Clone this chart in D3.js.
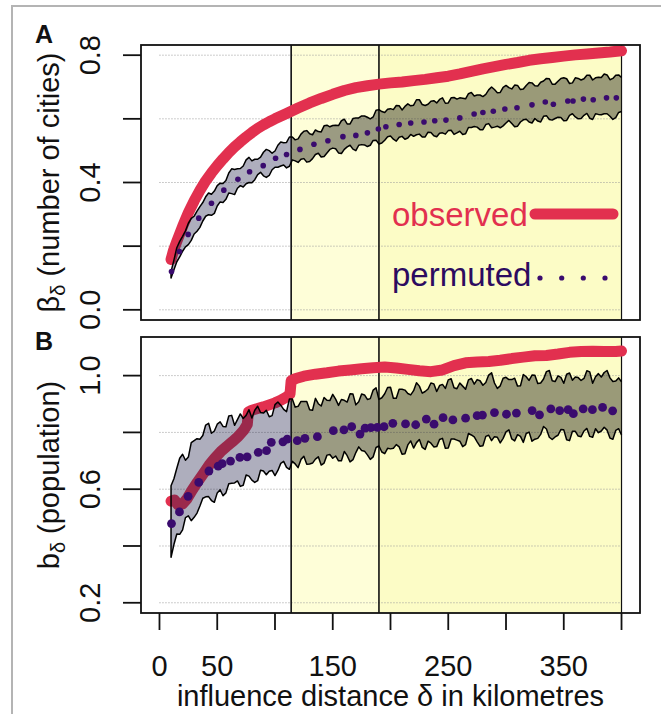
<!DOCTYPE html>
<html><head><meta charset="utf-8">
<script src="https://cdn.jsdelivr.net/npm/d3@7"></script>
<style>
body{margin:0;background:#fff;}
svg{display:block;}
text{font-family:"Liberation Sans",Arial,Helvetica,sans-serif;}
</style>
</head><body>
<svg id="c" width="661" height="714"></svg>
<script>
// ---------- data ----------
const distances = [10,15,20,25,30,35,40,45,50,55,60,65,70,75,80,85,90,95,100,105,110,115,120,125,130,135,140,145,150,155,160,165,170,175,180,185,190,195,200,205,210,215,220,225,230,235,240,245,250,255,260,265,270,275,280,285,290,295,300,305,310,315,320,325,330,335,340,345,350,355,360,365,370,375,380,385,390,395,400];
const midDistances = [12.5,17.5,22.5,27.5,32.5,37.5,42.5,47.5,52.5,57.5,62.5,67.5,72.5,77.5,82.5,87.5,92.5,97.5,102.5,107.5,112.5,117.5,122.5,127.5,132.5,137.5,142.5,147.5,152.5,157.5,162.5,167.5,172.5,177.5,182.5,187.5,192.5,197.5,202.5,207.5,212.5,217.5,222.5,227.5,232.5,237.5,242.5,247.5,252.5,257.5,262.5,267.5,272.5,277.5,282.5,287.5,292.5,297.5,302.5,307.5,312.5,317.5,322.5,327.5,332.5,337.5,342.5,347.5,352.5,357.5,362.5,367.5,372.5,377.5,382.5,387.5,392.5,397.5];

const permA_upper = [0.120,0.195,0.231,0.272,0.294,0.324,0.355,0.363,0.390,0.397,
 0.430,0.441,0.444,0.471,0.468,0.473,0.495,0.500,0.499,0.527,
 0.526,0.543,0.537,0.561,0.553,0.565,0.559,0.580,0.579,0.579,
 0.599,0.584,0.603,0.609,0.605,0.606,0.629,0.620,0.632,0.642,
 0.628,0.647,0.643,0.660,0.642,0.655,0.650,0.666,0.650,0.667,
 0.666,0.663,0.683,0.675,0.670,0.691,0.692,0.683,0.705,0.694,
 0.705,0.694,0.714,0.704,0.715,0.727,0.709,0.718,0.729,0.711,
 0.729,0.722,0.737,0.722,0.731,0.741,0.723,0.737,0.730];
const permA_upper_mid = [0.156,0.215,0.248,0.287,0.310,0.337,0.367,0.373,0.398,0.406,
 0.443,0.443,0.452,0.479,0.473,0.480,0.504,0.492,0.517,0.525,
 0.543,0.534,0.552,0.563,0.550,0.560,0.578,0.575,0.580,0.594,
 0.584,0.601,0.603,0.609,0.600,0.627,0.623,0.630,0.629,0.641,
 0.639,0.641,0.660,0.645,0.646,0.657,0.661,0.649,0.666,0.662,
 0.665,0.679,0.672,0.675,0.677,0.700,0.682,0.699,0.698,0.706,
 0.692,0.705,0.713,0.703,0.719,0.726,0.709,0.727,0.726,0.713,
 0.727,0.726,0.737,0.729,0.730,0.738,0.727,0.738];
const permA_lower = [0.100,0.151,0.184,0.205,0.238,0.259,0.294,0.297,0.326,0.337,
 0.367,0.362,0.390,0.396,0.399,0.425,0.421,0.422,0.448,0.452,
 0.446,0.471,0.463,0.475,0.466,0.488,0.480,0.493,0.508,0.493,
 0.504,0.517,0.500,0.519,0.513,0.532,0.521,0.533,0.546,0.530,
 0.545,0.540,0.545,0.552,0.543,0.557,0.544,0.556,0.563,0.551,
 0.561,0.553,0.573,0.574,0.566,0.585,0.574,0.572,0.587,0.585,
 0.577,0.597,0.590,0.601,0.590,0.610,0.596,0.605,0.594,0.611,
 0.606,0.601,0.617,0.598,0.614,0.616,0.608,0.604,0.623];
const permA_lower_mid = [0.126,0.166,0.198,0.218,0.247,0.279,0.299,0.303,0.339,0.347,
 0.365,0.382,0.386,0.400,0.409,0.432,0.416,0.440,0.448,0.455,
 0.451,0.468,0.473,0.464,0.475,0.492,0.482,0.504,0.506,0.491,
 0.512,0.505,0.517,0.518,0.517,0.533,0.524,0.544,0.536,0.542,
 0.536,0.551,0.550,0.543,0.558,0.547,0.555,0.552,0.564,0.556,
 0.551,0.573,0.576,0.566,0.582,0.572,0.577,0.578,0.595,0.575,
 0.590,0.599,0.587,0.593,0.608,0.598,0.601,0.604,0.595,0.616,
 0.600,0.611,0.602,0.616,0.613,0.616,0.598,0.620];

const permB_upper = [0.612,0.674,0.723,0.713,0.771,0.776,0.826,0.797,0.829,0.821,
 0.858,0.825,0.865,0.860,0.851,0.892,0.868,0.855,0.898,0.896,
 0.873,0.918,0.892,0.909,0.880,0.920,0.893,0.913,0.934,0.895,
 0.913,0.936,0.897,0.935,0.916,0.949,0.916,0.936,0.959,0.920,
 0.952,0.937,0.947,0.963,0.944,0.974,0.944,0.969,0.985,0.957,
 0.974,0.952,0.990,0.986,0.966,1.002,0.974,0.964,0.994,0.986,
 0.963,1.004,0.983,1.001,0.974,1.014,0.982,0.999,0.973,1.009,
 0.995,0.983,1.017,0.973,1.007,1.011,0.992,0.981,0.978];
const permB_upper_mid = [0.637,0.709,0.702,0.764,0.778,0.789,0.832,0.805,0.837,0.820,
 0.860,0.845,0.849,0.880,0.878,0.870,0.878,0.859,0.907,0.881,
 0.918,0.889,0.909,0.909,0.878,0.901,0.923,0.912,0.917,0.916,
 0.907,0.935,0.908,0.932,0.919,0.957,0.922,0.958,0.920,0.952,
 0.949,0.932,0.975,0.938,0.953,0.971,0.965,0.955,0.989,0.954,
 0.963,0.985,0.970,0.982,0.976,1.010,0.955,0.991,0.986,0.991,
 0.964,0.996,1.002,0.972,0.988,1.018,0.979,0.994,1.005,0.984,
 0.993,0.990,1.013,0.996,0.995,1.018,0.979,0.992];
const permB_lower = [0.360,0.442,0.457,0.506,0.501,0.541,0.573,0.560,0.587,0.577,
 0.619,0.622,0.610,0.650,0.632,0.630,0.664,0.663,0.648,0.691,
 0.677,0.698,0.676,0.716,0.689,0.706,0.685,0.720,0.709,0.700,
 0.733,0.696,0.729,0.736,0.721,0.714,0.752,0.725,0.742,0.757,
 0.723,0.756,0.745,0.775,0.740,0.762,0.750,0.779,0.745,0.777,
 0.769,0.757,0.791,0.767,0.753,0.790,0.785,0.763,0.802,0.777,
 0.792,0.765,0.801,0.776,0.793,0.812,0.775,0.790,0.809,0.771,
 0.804,0.785,0.814,0.783,0.799,0.818,0.780,0.807,0.791];
const permB_lower_mid = [0.405,0.441,0.500,0.489,0.516,0.568,0.574,0.554,0.598,0.587,
 0.621,0.629,0.614,0.646,0.624,0.667,0.651,0.666,0.666,0.698,
 0.670,0.689,0.705,0.688,0.692,0.714,0.692,0.722,0.717,0.700,
 0.718,0.704,0.749,0.734,0.705,0.747,0.731,0.744,0.744,0.749,
 0.725,0.770,0.764,0.747,0.769,0.749,0.775,0.744,0.777,0.773,
 0.750,0.796,0.784,0.751,0.786,0.771,0.783,0.779,0.809,0.770,
 0.786,0.796,0.769,0.779,0.821,0.783,0.784,0.810,0.774,0.804,
 0.787,0.805,0.786,0.813,0.805,0.808,0.776,0.813];

const obsA_x = [10,12,15,20,25,30,35,40,45,50,55,60,65,70,75,80,85,90,95,100,110,120,130,140,150,160,170,180,190,200,210,220,230,240,250,260,270,280,290,300,310,320,330,340,350,360,370,380,390,400];
const obsA_y = [0.158,0.185,0.215,0.262,0.305,0.342,0.375,0.405,0.43,0.453,0.474,0.494,0.512,0.528,0.543,0.557,0.57,0.581,0.591,0.6,0.617,0.634,0.65,0.664,0.677,0.689,0.698,0.704,0.709,0.713,0.716,0.72,0.724,0.729,0.734,0.741,0.749,0.757,0.764,0.771,0.777,0.784,0.789,0.793,0.797,0.801,0.804,0.807,0.81,0.814];

const obsB_x = [10,13,16,20,24,28,33,38,43,48,53,58,63,68,73,76,77,80,85,90,95,100,105,110,113,114,118,125,135,145,155,165,175,185,195,205,215,225,235,245,255,265,275,285,295,305,315,325,335,345,355,365,375,385,395,400];
const obsB_y = [0.558,0.562,0.545,0.548,0.567,0.595,0.626,0.655,0.685,0.71,0.732,0.75,0.767,0.785,0.808,0.828,0.872,0.878,0.884,0.89,0.897,0.904,0.913,0.925,0.935,0.982,0.99,0.998,1.005,1.01,1.016,1.02,1.024,1.028,1.03,1.027,1.022,1.017,1.014,1.02,1.035,1.045,1.048,1.05,1.054,1.06,1.065,1.07,1.071,1.076,1.082,1.085,1.086,1.085,1.085,1.087];

const dotsA_x = [10.4,17.3,24.8,34,45,55.7,67.9,78,89.8,100.5,110,121.6,133.7,145.8,158.8,170,180,189.5,196,207.5,217.5,229,238.3,248,260,272.4,280,289,299,309.5,322.5,334,341,353.5,358,367,375.5,387,395.5];
const dotsA_y = [0.12,0.183,0.237,0.288,0.335,0.376,0.41,0.434,0.453,0.476,0.488,0.504,0.52,0.531,0.544,0.548,0.556,0.568,0.575,0.582,0.587,0.59,0.594,0.596,0.603,0.615,0.62,0.624,0.631,0.635,0.644,0.653,0.646,0.656,0.656,0.662,0.66,0.666,0.666];

const dotsB_x = [10.4,17.3,24.8,34,42.8,50.8,54.3,61.5,69.6,75.9,85.5,92.7,96.8,106.9,110.6,119.3,125.9,136.7,150.5,159.7,166.4,173.6,178,183,188.6,194.4,202,213,221.8,231,237.7,245.5,254,265,275,279.6,290,300.4,309,322.6,329,338.8,346.5,353.8,358.3,366.8,374.8,383.6,392.3];
const dotsB_y = [0.479,0.52,0.575,0.624,0.664,0.681,0.69,0.699,0.712,0.714,0.73,0.736,0.765,0.767,0.776,0.771,0.779,0.785,0.806,0.809,0.82,0.794,0.815,0.817,0.818,0.82,0.832,0.83,0.827,0.847,0.829,0.852,0.844,0.85,0.859,0.861,0.87,0.864,0.868,0.877,0.862,0.883,0.877,0.88,0.866,0.883,0.88,0.888,0.876];

const thresholds = [114, 190];
const xLim = [0, 400];
const xTicks = [0,50,100,150,200,250,300,350,400];
const xTickLabels = ["0","50","","150","","250","","350",""];
const yLimA = [0, 0.8];
const yTicksA = [0,0.2,0.4,0.6,0.8];
const yTickLabelsA = ["0.0","","0.4","","0.8"];
const yLimB = [0.2, 1.1];
const yTicksB = [0.2,0.4,0.6,0.8,1.0];
const yTickLabelsB = ["0.2","","0.6","","1.0"];
const legendLabels = ["observed","permuted"];

// ---------- style ----------
const RED = "#e2304f", PURPLE = "#3a0b6e", PURPLE_TXT = "#2c0b60";
const svg = d3.select("#c");
const X0 = 141, X1 = 640;
const ext = (l) => { const d = (l[1]-l[0])*0.04; return [l[0]-d, l[1]+d]; };
const x = d3.scaleLinear().domain(ext(xLim)).range([X0, X1]);

// outer frame
svg.append("path").attr("d","M12,714 L12,6 L661,6").attr("fill","none").attr("stroke","#b4b4b4").attr("stroke-width",2);

const panels = [
  {id:"A", top:45, bottom:320, lim:yLimA, ticks:yTicksA, labels:yTickLabelsA,
   up:permA_upper, upM:permA_upper_mid, lo:permA_lower, loM:permA_lower_mid,
   ox:obsA_x, oy:obsA_y, dx:dotsA_x, dy:dotsA_y, r:2.8,
   tag:"A", tagY:43, sym:"β", title:" (number of cities)"},
  {id:"B", top:337, bottom:613, lim:yLimB, ticks:yTicksB, labels:yTickLabelsB,
   up:permB_upper, upM:permB_upper_mid, lo:permB_lower, loM:permB_lower_mid,
   ox:obsB_x, oy:obsB_y, dx:dotsB_x, dy:dotsB_y, r:4.4,
   tag:"B", tagY:350, sym:"b", title:" (population)"}
];

const defs = svg.append("defs");

panels.forEach(p => {
  const y = d3.scaleLinear().domain(ext(p.lim)).range([p.bottom, p.top]);
  const g = svg.append("g");
  const H = p.bottom - p.top;
  defs.append("clipPath").attr("id","cw"+p.id).append("rect")
    .attr("x",X0).attr("y",p.top).attr("width",x(thresholds[0])-X0).attr("height",H);
  defs.append("clipPath").attr("id","cy"+p.id).append("rect")
    .attr("x",x(thresholds[0])).attr("y",p.top).attr("width",X1-x(thresholds[0])).attr("height",H);
  defs.append("clipPath").attr("id","cb"+p.id).append("rect")
    .attr("x",X0).attr("y",p.top).attr("width",X1-X0).attr("height",H);

  // yellow zones
  g.append("rect").attr("x",x(thresholds[0])).attr("y",p.top)
    .attr("width",x(thresholds[1])-x(thresholds[0])).attr("height",H).attr("fill","#fefed8");
  g.append("rect").attr("x",x(thresholds[1])).attr("y",p.top)
    .attr("width",x(xLim[1])-x(thresholds[1])).attr("height",H).attr("fill","#fcfcc6");

  // grid
  g.selectAll(".grid").data(p.ticks).enter().append("line")
    .attr("x1",x(xLim[0])).attr("x2",x(xLim[1]))
    .attr("y1",d=>y(d)).attr("y2",d=>y(d))
    .attr("stroke","#9a9a9a").attr("stroke-width",1).attr("stroke-dasharray","1,2");

  // threshold lines
  g.selectAll(".thr").data(thresholds.concat([xLim[1]])).enter().append("line")
    .attr("x1",d=>x(d)).attr("x2",d=>x(d)).attr("y1",p.top).attr("y2",p.bottom)
    .attr("stroke","#111").attr("stroke-width",(d,i)=> i<2 ? 1.6 : 1.2);

  // observed
  const obs = p.ox.map((d,i)=>[d,p.oy[i]]);
  g.append("path").datum(obs)
    .attr("d", d3.line().x(d=>x(d[0])).y(d=>y(d[1])))
    .attr("fill","none").attr("stroke",RED).attr("stroke-width",11)
    .attr("stroke-linecap","round").attr("stroke-linejoin","round")
    .attr("clip-path","url(#cb"+p.id+")");

  // permuted band (main grid + mid grid, merged by distance)
  const band = distances.map((d,i)=>({x:d, lo:p.lo[i], up:p.up[i]}))
    .concat(midDistances.map((d,i)=>({x:d, lo:p.loM[i], up:p.upM[i]})))
    .sort((a,b)=>a.x-b.x);
  const area = d3.area().x(d=>x(d.x)).y0(d=>y(d.lo)).y1(d=>y(d.up));
  g.append("path").datum(band).attr("d",area).attr("fill","rgba(30,30,72,0.36)")
    .attr("clip-path","url(#cw"+p.id+")");
  g.append("path").datum(band).attr("d",area).attr("fill","rgba(30,30,20,0.44)")
    .attr("clip-path","url(#cy"+p.id+")");
  const outline = band.slice().reverse().map(d=>[d.x,d.up]).concat(band.map(d=>[d.x,d.lo]));
  g.append("path").datum(outline)
    .attr("d", d3.line().x(d=>x(d[0])).y(d=>y(d[1])))
    .attr("fill","none").attr("stroke","#000").attr("stroke-width",1.5).attr("stroke-linejoin","round");

  // dots
  g.selectAll(".dot").data(p.dx.map((d,i)=>[d,p.dy[i]])).enter().append("circle")
    .attr("cx",d=>x(d[0])).attr("cy",d=>y(d[1])).attr("r",p.r).attr("fill",PURPLE);

  // box
  g.append("rect").attr("x",X0).attr("y",p.top).attr("width",X1-X0).attr("height",H)
    .attr("fill","none").attr("stroke","#111").attr("stroke-width",1.8);

  // y axis
  g.selectAll(".yt").data(p.ticks).enter().append("line")
    .attr("x1",X0-18).attr("x2",X0).attr("y1",d=>y(d)).attr("y2",d=>y(d))
    .attr("stroke","#111").attr("stroke-width",1.8);
  g.selectAll(".yl").data(p.ticks).enter().append("text")
    .attr("transform",d=>`translate(100,${y(d)}) rotate(-90)`)
    .attr("text-anchor","middle").attr("font-size",29).attr("fill","#111")
    .text((d,i)=>p.labels[i]);

  // y title
  const t = g.append("text")
    .attr("transform",`translate(59,${(p.top+p.bottom)/2}) rotate(-90)`)
    .attr("text-anchor","middle").attr("font-size",29).attr("fill","#111");
  t.append("tspan").text(p.sym);
  t.append("tspan").attr("font-size",20).attr("dy",6).text("δ");
  t.append("tspan").attr("dy",-6).text(p.title);

  // panel tag
  g.append("text").attr("x",44).attr("y",p.tagY).attr("text-anchor","middle")
    .attr("font-size",25).attr("font-weight","bold").attr("fill","#111").text(p.tag);

  if (p.id === "B") {
    g.selectAll(".xt").data(xTicks).enter().append("line")
      .attr("x1",d=>x(d)).attr("x2",d=>x(d)).attr("y1",p.bottom).attr("y2",p.bottom+17)
      .attr("stroke","#111").attr("stroke-width",1.8);
    g.selectAll(".xl").data(xTicks).enter().append("text")
      .attr("x",d=>x(d)).attr("y",676).attr("text-anchor","middle")
      .attr("font-size",29).attr("fill","#111").text((d,i)=>xTickLabels[i]);
    g.append("text").attr("x",(X0+X1)/2).attr("y",706).attr("text-anchor","middle")
      .attr("font-size",29).attr("fill","#111").text("influence distance δ in kilometres");
  }

  if (p.id === "A") {
    g.append("text").attr("x",392).attr("y",226).attr("font-size",33).attr("fill",RED).text(legendLabels[0]);
    g.append("line").attr("x1",535).attr("x2",613).attr("y1",214).attr("y2",214)
      .attr("stroke",RED).attr("stroke-width",11).attr("stroke-linecap","round");
    g.append("text").attr("x",392).attr("y",286).attr("font-size",33).attr("fill",PURPLE_TXT).text(legendLabels[1]);
    g.selectAll(".ld").data([540,561.7,583.3,605]).enter().append("circle")
      .attr("cx",d=>d).attr("cy",278).attr("r",2.6).attr("fill",PURPLE);
  }
});
</script>
</body></html>
